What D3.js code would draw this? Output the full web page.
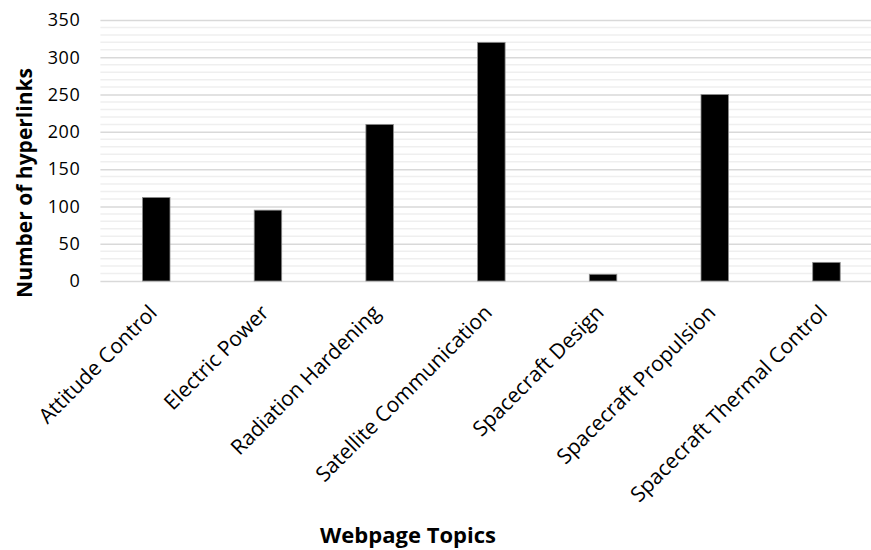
<!DOCTYPE html>
<html>
<head>
<meta charset="utf-8">
<script src="https://cdn.jsdelivr.net/npm/d3@7"></script>
<style>
  html, body { margin: 0; padding: 0; background: #fff; }
  svg { display: block; font-family: "Open Sans", sans-serif; }
</style>
</head>
<body>
<svg id="chart" width="871" height="550"></svg>
<script>
// Hyperlink counts per webpage topic
const categories = [
  "Attitude Control",
  "Electric Power",
  "Radiation Hardening",
  "Satellite Communication",
  "Spacecraft Design",
  "Spacecraft Propulsion",
  "Spacecraft Thermal Control"
];
const hyperlinks = [112, 95, 210, 320, 9, 250, 25];
const yTicks = [0, 50, 100, 150, 200, 250, 300, 350];
const yMinorTicks = d3.range(0, 351, 10);
const xTitle = "Webpage Topics";
const yTitle = "Number of hyperlinks";

const svg = d3.select("#chart");
const plot = { left: 100.4, right: 882.3, top: 20, bottom: 281 };

const x = d3.scaleBand()
  .domain(categories)
  .range([plot.left, plot.right])
  .paddingInner(0.754)
  .paddingOuter(0.377);

const y = d3.scaleLinear()
  .domain([0, 350])
  .range([plot.bottom, plot.top]);

// minor gridlines every 10
svg.append("g")
  .selectAll("line")
  .data(yMinorTicks.filter(v => v % 50 !== 0))
  .join("line")
  .attr("x1", plot.left).attr("x2", plot.right)
  .attr("y1", d => y(d)).attr("y2", d => y(d))
  .attr("stroke", "#efefef")
  .attr("stroke-width", 1.5);

// major gridlines + tick labels
const yAxis = d3.axisLeft(y)
  .tickValues(yTicks)
  .tickSize(-(plot.right - plot.left))
  .tickPadding(20);

svg.append("g")
  .attr("transform", `translate(${plot.left},0)`)
  .call(yAxis)
  .call(g => g.select(".domain").remove())
  .call(g => g.selectAll(".tick line").attr("stroke", "#d9d9d9").attr("stroke-width", 1.5))
  .call(g => g.selectAll(".tick text")
    .attr("fill", "#000")
    .style("font-size", "18px")
    .style("letter-spacing", "0.6px")
    .style("font-family", "'Open Sans', sans-serif"));

// bars
svg.append("g")
  .selectAll("rect")
  .data(categories.map((c, i) => ({ c, v: hyperlinks[i] })))
  .join("rect")
  .attr("x", d => x(d.c))
  .attr("width", x.bandwidth())
  .attr("y", d => y(d.v))
  .attr("height", d => y(0) - y(d.v))
  .attr("fill", "#000")
  .attr("stroke", "#8c8c8c")
  .attr("stroke-width", 0.8);

// category axis
const xAxis = d3.axisBottom(x).tickSize(0).tickPadding(0);
svg.append("g")
  .attr("transform", `translate(0,${plot.bottom})`)
  .call(xAxis)
  .call(g => g.select(".domain").remove())
  .call(g => g.selectAll(".tick text")
    .attr("fill", "#000")
    .attr("text-anchor", "end")
    .attr("dy", 0)
    .attr("transform", "translate(2,33) rotate(-45)")
    .style("font-size", "21px")
    .style("font-family", "'Open Sans', sans-serif"));

// axis titles
svg.append("text")
  .attr("x", 408)
  .attr("y", 543)
  .attr("text-anchor", "middle")
  .style("font-size", "22px")
  .style("font-weight", "bold")
  .text(xTitle);

svg.append("text")
  .attr("transform", "translate(32,183) rotate(-90)")
  .attr("text-anchor", "middle")
  .style("font-size", "21px")
  .style("font-weight", "bold")
  .text(yTitle);
</script>
</body>
</html>
